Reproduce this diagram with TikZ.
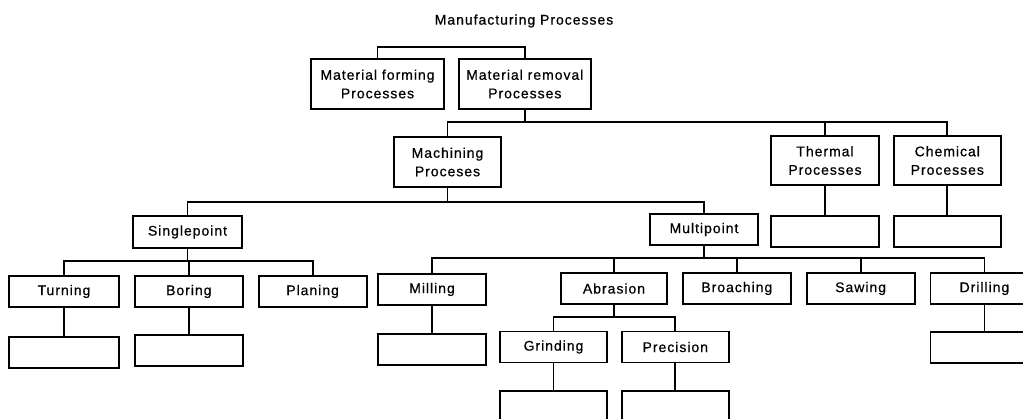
\documentclass[tikz,border=0pt]{standalone}
\usepackage{fontspec}
\setmainfont{Liberation Sans}[LetterSpace=7, FakeBold=0.6]
\usetikzlibrary{positioning}

\tikzset{
  box/.style={draw, line width=1.8pt, inner sep=0pt, align=center,
    minimum width=108pt, minimum height=31pt,
    font=\fontsize{14}{18.5}\selectfont},
  tallbox/.style={box, minimum height=50pt},
  link/.style={line width=1.8pt},
}

\begin{document}
\begin{tikzpicture}[x=1pt, y=-1pt]
  \useasboundingbox (0,0) rectangle (1023,419);

  % Define nodes
  \node[font=\fontsize{14}{18.5}\selectfont] (mfg) at (524,21) {Manufacturing Processes};%
  \node[tallbox, minimum width=133pt] (form) at (377.5,84) {Material forming\\Processes};%
  \node[tallbox, minimum width=132pt, right=13pt of form] (remove) {Material removal\\Processes};%

  \node[tallbox, minimum width=107pt] (mach) at (447.5,162) {Machining\\Proceses};%
  \node[tallbox, minimum height=49pt] (therm) at (825,160.5) {Thermal\\Processes};%
  \node[tallbox, minimum width=107pt, minimum height=49pt, right=13pt of therm] (chem) {Chemical\\Processes};%

  \node[box, minimum width=109pt, minimum height=32pt] (single) at (187.5,232) {Singlepoint};%
  \node[box] (multi) at (704,229.5) {Multipoint};%

  \node[box, minimum width=110pt] (turn) at (64,291.5) {Turning};%
  \node[box, right=14pt of turn] (bore) {Boring};%
  \node[box, right=14pt of bore] (plane) {Planing};%

  \node[box] (mill) at (432,289.5) {Milling};%
  \node[box, minimum width=106pt] (abr) at (614,288.5) {Abrasion};%
  \node[box, right=14pt of abr] (broach) {Broaching};%
  \node[box, right=14pt of broach] (saw) {Sawing};%
  \node[box, right=14pt of saw] (drill) {Drilling};%

  \node[box, minimum width=107pt] (grind) at (553.5,347) {Grinding};%
  \node[box, minimum width=107pt, right=13pt of grind] (prec) {Precision};%

  % empty boxes under the leaves
  \node[box, below=28pt of turn, minimum width=110pt] (turn2) {};%
  \node[box, below=26pt of bore] (bore2) {};%
  \node[box, below=27pt of mill] (mill2) {};%
  \node[box, below=26pt of drill] (drill2) {};%
  \node[box, below=27pt of grind, minimum width=107pt] (grind2) {};%
  \node[box, below=27pt of prec, minimum width=107pt] (prec2) {};%
  \node[box, below=29pt of therm] (therm2) {};%
  \node[box, below=29pt of chem, minimum width=107pt] (chem2) {};%

  % bus lines
  \coordinate (b0) at (0,47);
  \coordinate (b1) at (0,122);
  \coordinate (b2) at (0,202);
  \coordinate (b3) at (0,261);
  \coordinate (b4) at (0,258);
  \coordinate (b5) at (0,317);

  % Define edges
  \draw[link] (form.north) |- (b0 -| remove.north) -- (remove.north);

  \draw[link] (remove.south) -- (remove.south |- b1);
  \draw[link] (mach.north) |- (chem.north |- b1) -- (chem.north);
  \draw[link] (therm.north) -- (therm.north |- b1);

  \draw[link] (mach.south) -- (mach.south |- b2);
  \draw[link] (single.north) |- (multi.north |- b2) -- (multi.north);

  \draw[link] (single.south) -- (single.south |- b3);
  \draw[link] (turn.north) |- (plane.north |- b3) -- (plane.north);
  \draw[link] (bore.north) -- (bore.north |- b3);

  \draw[link] (multi.south) -- (multi.south |- b4);
  \draw[link] (mill.north) |- (drill.north |- b4) -- (drill.north);
  \foreach \n in {abr,broach,saw}
    \draw[link] (\n.north) -- (\n.north |- b4);

  \draw[link] (abr.south) -- (abr.south |- b5);
  \draw[link] (grind.north) |- (prec.north |- b5) -- (prec.north);

  % leaves down to their empty boxes
  \foreach \n in {turn,bore,mill,drill,grind,prec,therm,chem}
    \draw[link] (\n) -- (\n2);
\end{tikzpicture}
\end{document}
